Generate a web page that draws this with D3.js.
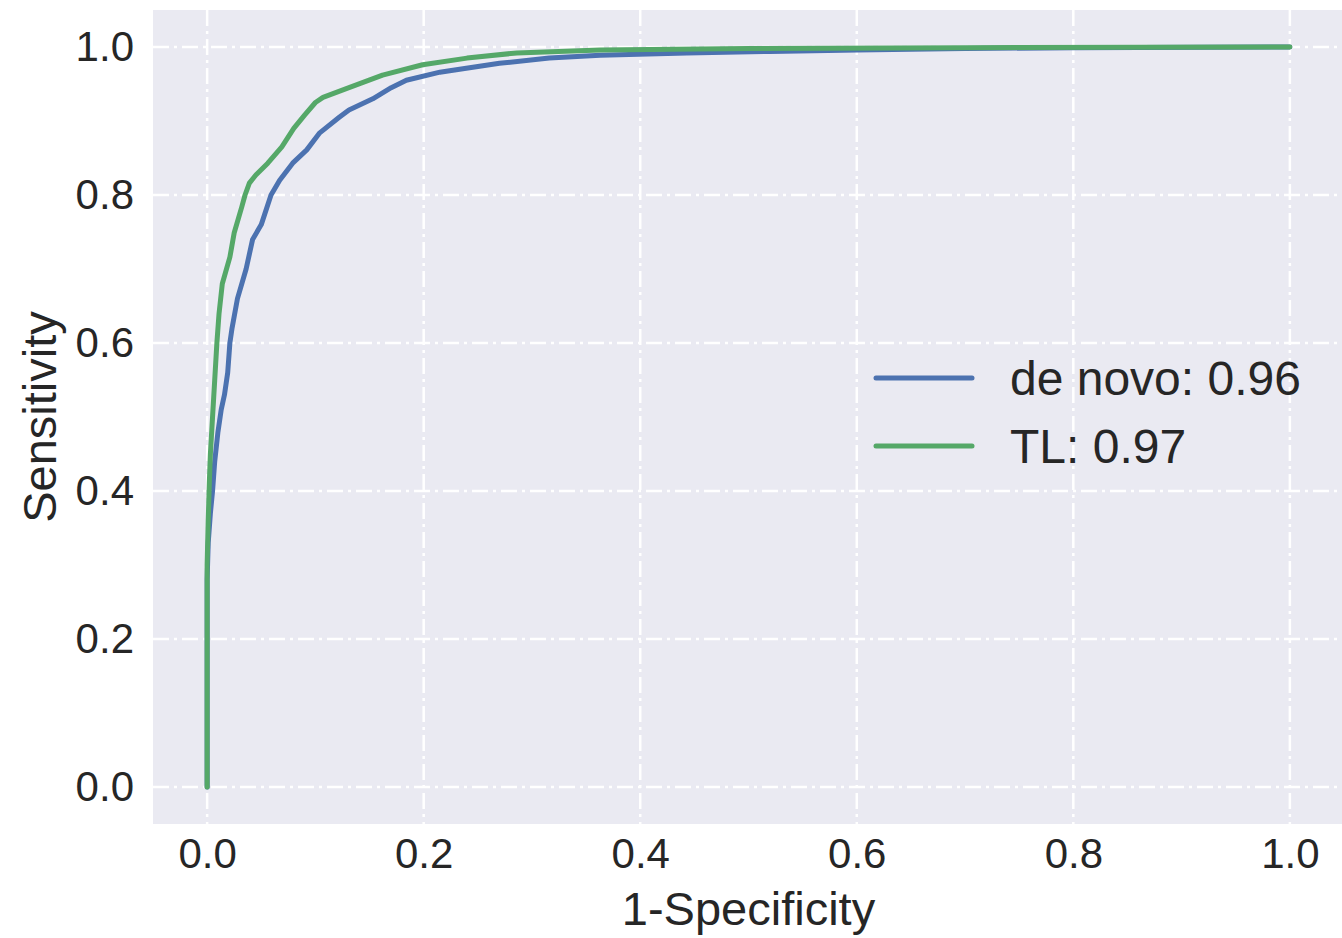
<!DOCTYPE html>
<html>
<head>
<meta charset="utf-8">
<script src="https://cdn.jsdelivr.net/npm/d3@7"></script>
<style>
  body { margin: 0; background: #fff; }
  text { font-family: "Liberation Sans", Arial, sans-serif; fill: #262626; }
  .tick text { font-size: 42px; }
  .axis-label { font-size: 47px; }
  .legend text { font-size: 48px; }
</style>
</head>
<body>
<svg width="1342" height="938"></svg>
<script>
// ROC points: [1-specificity, sensitivity]
const deNovo = [
  [0, 0], [0, 0.28], [0.001, 0.33], [0.003, 0.37], [0.005, 0.40], [0.007, 0.44],
  [0.010, 0.48], [0.013, 0.51], [0.016, 0.53], [0.019, 0.56], [0.021, 0.60],
  [0.023, 0.62], [0.028, 0.66], [0.036, 0.70], [0.042, 0.74], [0.050, 0.76],
  [0.059, 0.80], [0.067, 0.82], [0.079, 0.843], [0.092, 0.861], [0.104, 0.884],
  [0.122, 0.905], [0.131, 0.915], [0.153, 0.930], [0.170, 0.945], [0.184, 0.955],
  [0.215, 0.966], [0.224, 0.968], [0.270, 0.978], [0.316, 0.985], [0.363, 0.989],
  [0.443, 0.992], [0.520, 0.994], [0.600, 0.996], [0.700, 0.998], [0.800, 0.999], [1, 1]
];
const transfer = [
  [0, 0], [0, 0.30], [0.001, 0.36], [0.002, 0.41], [0.003, 0.45], [0.005, 0.50],
  [0.007, 0.55], [0.009, 0.60], [0.011, 0.64], [0.014, 0.68], [0.021, 0.716],
  [0.025, 0.749], [0.032, 0.784], [0.035, 0.80], [0.039, 0.816], [0.045, 0.827],
  [0.056, 0.843], [0.069, 0.865], [0.080, 0.89], [0.090, 0.908], [0.100, 0.925],
  [0.107, 0.932], [0.131, 0.945], [0.162, 0.962], [0.199, 0.976], [0.240, 0.985],
  [0.286, 0.992], [0.363, 0.996], [0.500, 0.998], [0.700, 0.999], [1, 1]
];
const seriesNames = ['de novo: 0.96', 'TL: 0.97'];
const seriesColors = ['#4C72B0', '#55A868'];
const tickValues = [0, 0.2, 0.4, 0.6, 0.8, 1.0];

const svg = d3.select('svg');

const xScale = d3.scaleLinear()
  .domain([-0.05, 1.05])
  .range([153, 1344]);

const yScale = d3.scaleLinear()
  .domain([-0.05, 1.05])
  .range([824, 10]);

// plot background
svg.append('rect')
  .attr('x', xScale(-0.05))
  .attr('y', yScale(1.05))
  .attr('width', xScale(1.05) - xScale(-0.05))
  .attr('height', yScale(-0.05) - yScale(1.05))
  .attr('fill', '#EAEAF2');

// grid
const grid = svg.append('g')
  .attr('stroke', '#fff')
  .attr('stroke-width', 2.5)
  .attr('stroke-dasharray', '16,5,3,5');

grid.selectAll('.vgrid').data(tickValues)
  .enter().append('line')
    .attr('x1', d => xScale(d))
    .attr('x2', d => xScale(d))
    .attr('y1', yScale(1.05))
    .attr('y2', yScale(-0.05));

grid.selectAll('.hgrid').data(tickValues)
  .enter().append('line')
    .attr('y1', d => yScale(d))
    .attr('y2', d => yScale(d))
    .attr('x1', xScale(-0.05))
    .attr('x2', xScale(1.05));

// axes
const xAxis = d3.axisBottom(xScale)
  .tickValues(tickValues)
  .tickFormat(d3.format('.1f'))
  .tickSize(0)
  .tickPadding(14);

const yAxis = d3.axisLeft(yScale)
  .tickValues(tickValues)
  .tickFormat(d3.format('.1f'))
  .tickSize(0)
  .tickPadding(19);

const xAxisG = svg.append('g')
  .attr('transform', `translate(0,${yScale(-0.05)})`)
  .call(xAxis);
xAxisG.select('.domain').remove();
xAxisG.selectAll('text').attr('fill', '#262626');

const yAxisG = svg.append('g')
  .attr('transform', `translate(${xScale(-0.05)},0)`)
  .call(yAxis);
yAxisG.select('.domain').remove();
yAxisG.selectAll('text').attr('fill', '#262626');

svg.append('text')
  .attr('class', 'axis-label')
  .attr('x', xScale(0.5))
  .attr('y', 925)
  .attr('text-anchor', 'middle')
  .text('1-Specificity');

svg.append('text')
  .attr('class', 'axis-label')
  .attr('transform', `translate(56,${yScale(0.5)}) rotate(-90)`)
  .attr('text-anchor', 'middle')
  .text('Sensitivity');

// curves
const lineGenerator = d3.line()
  .x(d => xScale(d[0]))
  .y(d => yScale(d[1]));

[deNovo, transfer].forEach((data, i) => {
  svg.append('path')
    .attr('d', lineGenerator(data))
    .attr('fill', 'none')
    .attr('stroke', seriesColors[i])
    .attr('stroke-width', 5)
    .attr('stroke-linejoin', 'round')
    .attr('stroke-linecap', 'round');
});

// legend
const legend = svg.append('g').attr('class', 'legend');
seriesNames.forEach((name, i) => {
  const y = 378 + i * 68;
  legend.append('line')
    .attr('x1', 876).attr('x2', 972)
    .attr('y1', y).attr('y2', y)
    .attr('stroke', seriesColors[i])
    .attr('stroke-width', 5)
    .attr('stroke-linecap', 'round');
  legend.append('text')
    .attr('x', 1010)
    .attr('y', y)
    .attr('dy', '0.35em')
    .text(name);
});
</script>
</body>
</html>
